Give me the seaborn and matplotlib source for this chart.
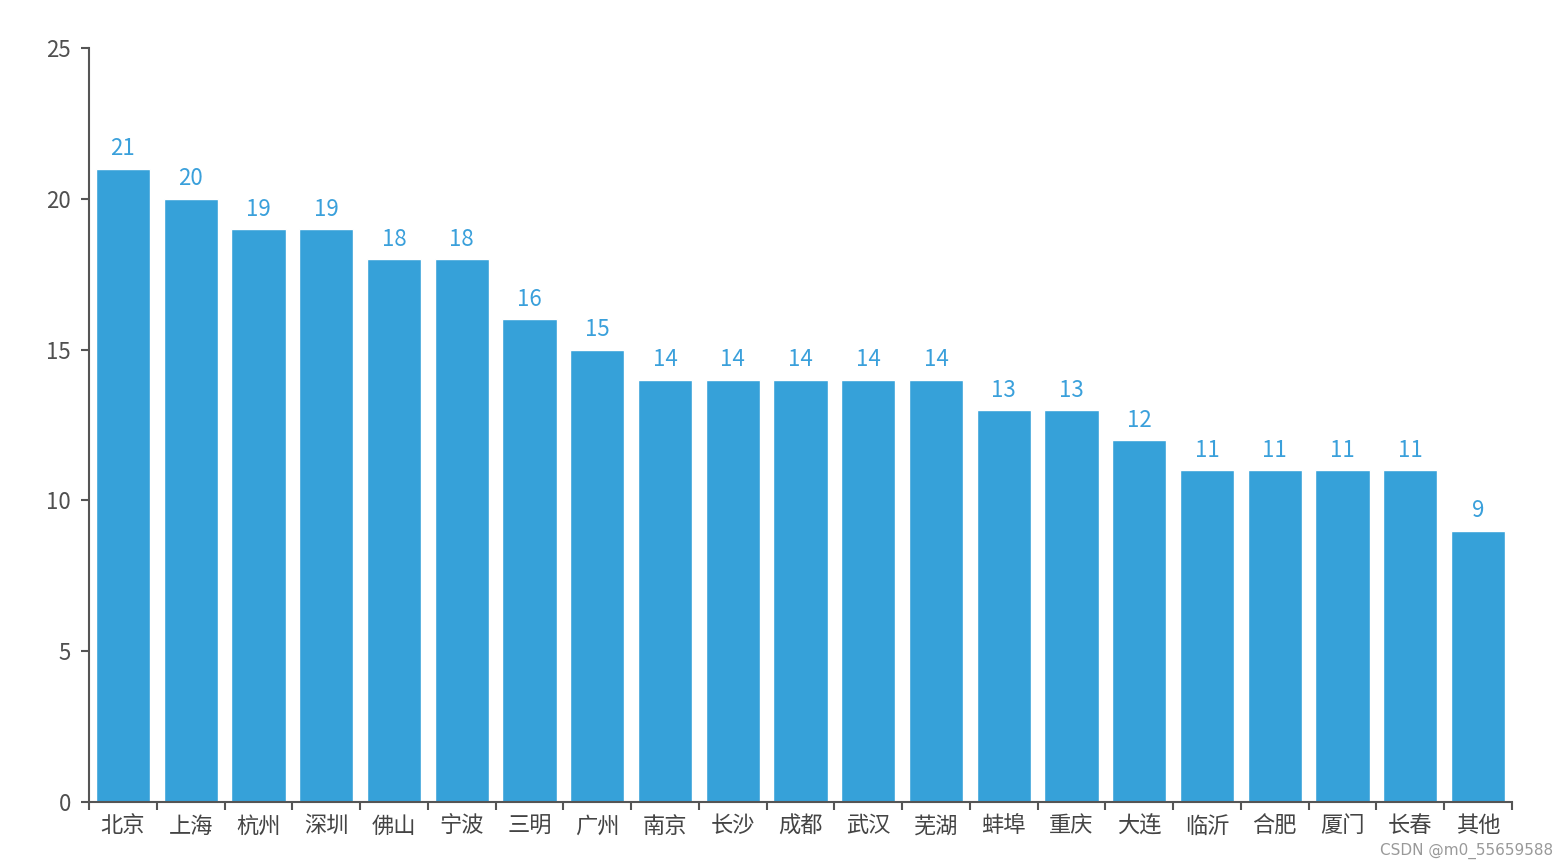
import matplotlib
matplotlib.use("Agg")
import matplotlib.pyplot as plt
import seaborn as sns
import pandas as pd
import numpy as np

cities = ["北京", "上海", "杭州", "深圳", "佛山", "宁波", "三明", "广州", "南京", "长沙",
          "成都", "武汉", "芜湖", "蚌埠", "重庆", "大连", "临沂", "合肥", "厦门", "长春", "其他"]
counts = [21, 20, 19, 19, 18, 18, 16, 15, 14, 14, 14, 14, 14, 13, 13, 12, 11, 11, 11, 11, 9]
yticks = [0, 5, 10, 15, 20, 25]

sns.set_theme(style="white")
plt.rcParams['font.family'] = ['Noto Sans CJK SC', 'DejaVu Sans']

bar_color = "#36a1d9"
axis_color = "#555555"

df = pd.DataFrame({"city": cities, "count": counts})

fig = plt.figure(figsize=(15.68, 8.68), dpi=100)
ax = fig.add_axes([89/1568, 66/868, (1512-89)/1568, (802-48)/868])

sns.barplot(data=df, x="city", y="count", color=bar_color, saturation=1, width=0.8, ax=ax)

for i, v in enumerate(counts):
    ax.annotate(str(v), (i, v), xytext=(0, 6), textcoords="offset points",
                ha="center", va="bottom", color="#3aa0db", fontsize=16)

ax.set_xlim(-0.5, len(cities) - 0.5)
ax.set_ylim(0, 25)
ax.set_yticks(yticks)
ax.set_xlabel("")
ax.set_ylabel("")

for s in ["top", "right"]:
    ax.spines[s].set_visible(False)
for s in ["left", "bottom"]:
    ax.spines[s].set_color(axis_color)
    ax.spines[s].set_linewidth(1.5)

ax.tick_params(axis="y", length=6, width=1.5, color=axis_color, labelcolor="#505050",
               labelsize=16, direction="out", left=True, pad=7)
ax.tick_params(axis="x", which="major", length=0, labelcolor="#444444", labelsize=16, pad=9)
ax.set_xticks(np.arange(-0.5, len(cities), 1), minor=True)
ax.tick_params(axis="x", which="minor", length=6, width=1.5, color=axis_color, direction="out", bottom=True)

fig.text(1553/1568, 1 - 851/868, "CSDN @m0_55659588", ha="right", va="center",
         color="#999999", fontsize=11, family=["DejaVu Sans"])

fig.savefig("out.png", dpi=100, facecolor="white")
